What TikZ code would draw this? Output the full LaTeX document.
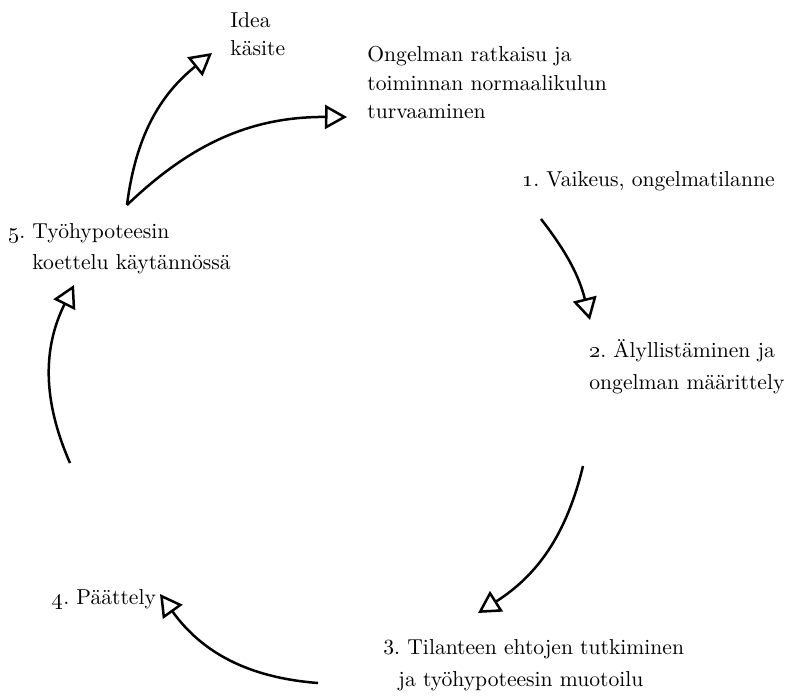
\documentclass[tikz,border=0pt]{standalone}
\usetikzlibrary{arrows.meta}
\begin{document}
\frenchspacing
\begin{tikzpicture}[x=0.5pt,y=-0.5pt,
  lbl/.style={anchor=base west,inner sep=0pt,font=\fontsize{10.8}{15}\selectfont\frenchspacing},
  arr/.style={line width=1.25pt,-{Triangle[open,length=11pt,width=12pt,line width=1.25pt]}}]
\useasboundingbox (0,0) rectangle (786,696);
% texts
\node[lbl] (idea1) at (230,27) {Idea};
\node[lbl] (idea2) at (230,55) {käsite};
\node[lbl] (ong1) at (367,61) {Ongelman ratkaisu ja};
\node[lbl] (ong2) at (367,90) {toiminnan normaalikulun};
\node[lbl] (ong3) at (367,118) {turvaaminen};
\node[lbl] (s1) at (522,186) {\oldstylenums{1}. Vaikeus, ongelmatilanne};
\node[lbl] (s2a) at (589,357) {\oldstylenums{2}. Älyllistäminen ja};
\node[lbl] (s2b) at (589,389) {ongelman määrittely};
\node[lbl] (s3a) at (383,654) {3. Tilanteen ehtojen tutkiminen};
\node[lbl] (s3b) at (398,686) {ja työhypoteesin muotoilu};
\node[lbl] (s4) at (52,604) {\oldstylenums{4}. Päättely};
\node[lbl] (s5a) at (8,238) {\oldstylenums{5}. Työhypoteesin};
\node[lbl] (s5b) at (32,269) {koettelu käytännössä};
% connector ends
\coordinate (a1s) at (541,219); \coordinate (a1e) at (590,320);
\coordinate (a2s) at (583,466); \coordinate (a2e) at (478,613);
\coordinate (a3s) at (318,683); \coordinate (a3e) at (160,594);
\coordinate (a4s) at (70,463);  \coordinate (a4e) at (74,285);
\coordinate (a5s) at (127,205); \coordinate (a5e) at (212,53);
\coordinate (a6e) at (347,117);
\draw[arr] (a1s) to[bend left=12] (a1e);
\draw[arr] (a2s) to[bend left=22] (a2e);
\draw[arr] (a3s) to[bend left=25] (a3e);
\draw[arr] (a4s) to[bend left=25] (a4e);
\draw[arr] (a5s) to[bend left=22] (a5e);
\draw[arr] (a5s) to[bend left=22] (a6e);
\end{tikzpicture}
\end{document}
